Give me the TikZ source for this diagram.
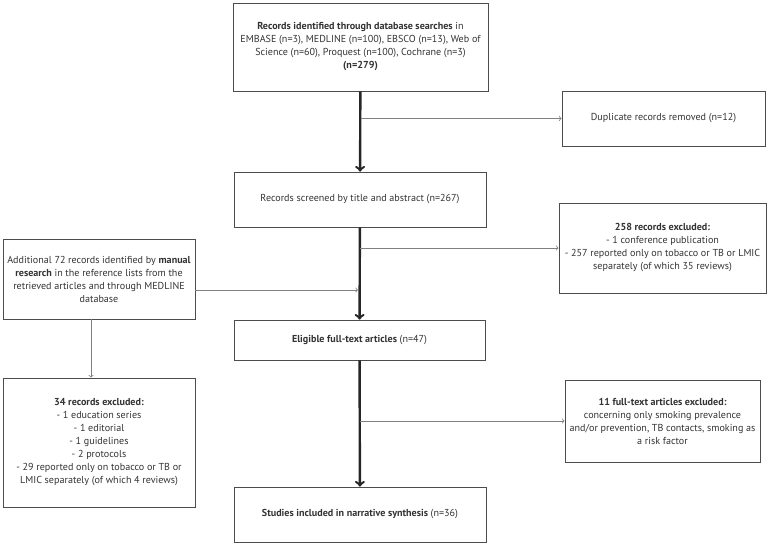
\documentclass[tikz,border=0pt]{standalone}
\usepackage{fontspec}
\setmainfont{PT Sans}

\begin{document}
\begin{tikzpicture}[x=1pt, y=-1pt,
        box/.style={draw=black!70, line width=0.8pt, align=center, inner sep=2pt,
            font=\fontsize{10.1}{13}\selectfont, text=black!80},
        mainarrow/.style={->, line width=2.4pt, black!85},
        sidearrow/.style={->, line width=0.8pt, black!50}]
        \useasboundingbox (0,0) rectangle (773,548);

        % main column
        \node[box, minimum width=255pt, minimum height=88pt] (ident) at (360.5,47)
            {\textbf{Records identified through database searches} in\\
             EMBASE (n=3), MEDLINE (n=100), EBSCO (n=13), Web of\\
             Science (n=60), Proquest (n=100), Cochrane (n=3)\\
             \textbf{(n=279)}};
        \node[box, minimum width=252pt, minimum height=55pt] (screen) at (360,199.5)
            {Records screened by title and abstract (n=267)};
        \node[box, minimum width=251pt, minimum height=40pt] (elig) at (359.5,340)
            {\textbf{Eligible full-text articles} (n=47)};
        \node[box, minimum width=252pt, minimum height=55pt] (final) at (360,514.5)
            {\textbf{Studies included in narrative synthesis} (n=36)};

        % right column
        \node[box, minimum width=203pt, minimum height=55pt] (dup) at (663.5,118.5)
            {Duplicate records removed (n=12)};
        \node[box, minimum width=207pt, minimum height=90pt] (excl1) at (662.5,248)
            {\textbf{258 records excluded:}\\
             - 1 conference publication\\
             - 257 reported only on tobacco or TB or LMIC\\
             separately (of which 35 reviews)};
        \node[box, minimum width=195pt, minimum height=82pt] (excl3) at (662.5,421)
            {\textbf{11 full-text articles excluded:}\\
             concerning only smoking prevalence\\
             and/or prevention, TB contacts, smoking as\\
             a risk factor};

        % left column
        \node[box, minimum width=192pt, minimum height=80pt] (manual) at (99,279)
            {Additional 72 records identified by \textbf{manual}\\
             \textbf{research} in the reference lists from the\\
             retrieved articles and through MEDLINE\\
             database};
        \node[box, minimum width=192pt, minimum height=129pt] (excl2) at (99,442.5)
            {\textbf{34 records excluded:}\\
             - 1 education series\\
             - 1 editorial\\
             - 1 guidelines\\
             - 2 protocols\\
             - 29 reported only on tobacco or TB or\\
             LMIC separately (of which 4 reviews)};

        \foreach \a/\b in {ident/screen, screen/elig, elig/final}
            \draw[mainarrow] (\a) -- (\b);

        \draw[sidearrow] (ident.south |- dup.west) -- (dup.west);
        \draw[sidearrow] (screen.south |- excl1.west) -- (excl1.west);
        \draw[sidearrow] (elig.south |- excl3.west) -- (excl3.west);

        \coordinate (join) at (358,290);
        \draw[sidearrow] (manual.east |- join) -- (join);
        \draw[sidearrow] ([xshift=-8pt]manual.south) -- ([xshift=-8pt]excl2.north);
    \end{tikzpicture}
\end{document}
